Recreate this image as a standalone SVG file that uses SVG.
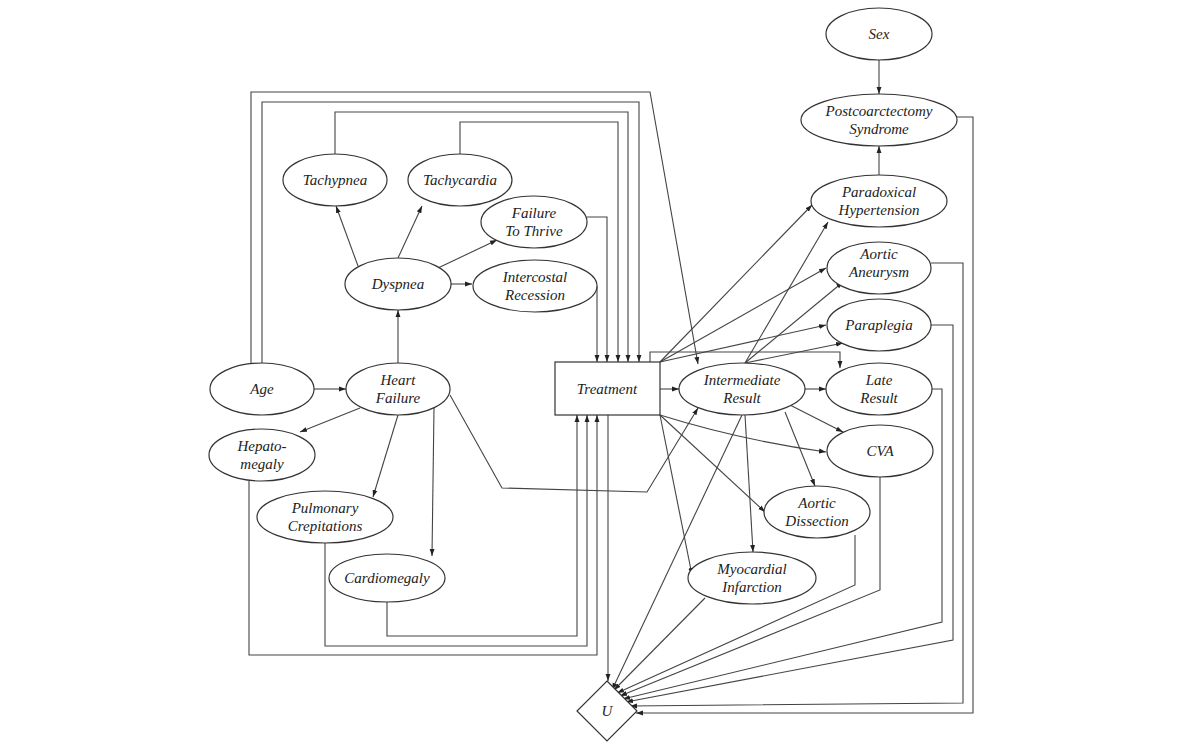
<svg xmlns="http://www.w3.org/2000/svg" width="1200" height="751" viewBox="0 0 1200 751">
<defs>
<marker id="a" viewBox="0 0 10 10" refX="10" refY="5" markerWidth="7" markerHeight="7" orient="auto" markerUnits="userSpaceOnUse"><path d="M0,1.5L10,5L0,8.5z" fill="#222"/></marker>
<style>
.n ellipse,.n rect,.n polygon{fill:#fff;stroke:#333;stroke-width:1.2}
.n text{font-family:"Liberation Serif",serif;font-style:italic;font-size:15px;fill:#222;text-anchor:middle}
#edges path{fill:none;stroke:#444;stroke-width:1.1;marker-end:url(#a)}
</style>
</defs>
<rect width="1200" height="751" fill="#fff"/>
<g id="edges">
<path d="M879,60V94"/>
<path d="M879,175V146"/>
<path d="M398,363V310"/>
<path d="M358,266L336,206"/>
<path d="M398,258L422,206"/>
<path d="M438,268L497,240"/>
<path d="M451,284H472"/>
<path d="M314,389H346"/>
<path d="M360,408L300,432"/>
<path d="M398,415L373,497"/>
<path d="M434,408L432,556"/>
<path d="M597,286V362"/>
<path d="M587,217L607,217V362"/>
<path d="M460,154V122H618V362"/>
<path d="M335,154V112H628V362"/>
<path d="M262,363V102H639V362"/>
<path d="M251,363V92H650L698,364"/>
<path d="M387,602V636H577V415"/>
<path d="M325,543V646H587V415"/>
<path d="M249,481V655H597V415"/>
<path d="M608,415V681"/>
<path d="M450,395L502,488L647,492L698,408"/>
<path d="M660,389H679"/>
<path d="M660,362L812,205"/>
<path d="M660,362L826,268"/>
<path d="M660,362L826,325"/>
<path d="M650,362V352H840V368"/>
<path d="M745,363L828,222"/>
<path d="M745,363L843,282"/>
<path d="M745,363L843,343"/>
<path d="M805,389H826"/>
<path d="M790,405L843,432"/>
<path d="M785,412L815,486"/>
<path d="M745,415L753,552"/>
<path d="M742,415L612,690"/>
<path d="M660,415Q740,440 826,452"/>
<path d="M660,415L765,512"/>
<path d="M660,415L692,575"/>
<path d="M705,598L614,690"/>
<path d="M855,535V585L617,693"/>
<path d="M880,477V590L620,696"/>
<path d="M905,389H942V622L623,699"/>
<path d="M931,325H953V640L626,702"/>
<path d="M931,263H963V703L630,706"/>
<path d="M957,117H973V713L636,713"/>
</g>
<g id="sex" class="n"><ellipse cx="879" cy="34" rx="53" ry="26"/><text x="879" y="39">Sex</text></g>
<g id="postco" class="n"><ellipse cx="879" cy="120" rx="78" ry="26"/><text x="879" y="116">Postcoarctectomy</text><text x="879" y="134">Syndrome</text></g>
<g id="paradox" class="n"><ellipse cx="879" cy="201" rx="68" ry="26"/><text x="879" y="197">Paradoxical</text><text x="879" y="215">Hypertension</text></g>
<g id="aneurysm" class="n"><ellipse cx="879" cy="268" rx="52" ry="26"/><text x="879" y="259">Aortic</text><text x="879" y="277">Aneurysm</text></g>
<g id="paraplegia" class="n"><ellipse cx="879" cy="325" rx="52" ry="26"/><text x="879" y="330">Paraplegia</text></g>
<g id="late" class="n"><ellipse cx="879" cy="389" rx="53" ry="26"/><text x="879" y="385">Late</text><text x="879" y="403">Result</text></g>
<g id="cva" class="n"><ellipse cx="880" cy="451" rx="53" ry="26"/><text x="880" y="456">CVA</text></g>
<g id="dissection" class="n"><ellipse cx="817" cy="512" rx="53" ry="26"/><text x="817" y="508">Aortic</text><text x="817" y="526">Dissection</text></g>
<g id="mi" class="n"><ellipse cx="752" cy="578" rx="64" ry="26"/><text x="752" y="574">Myocardial</text><text x="752" y="592">Infarction</text></g>
<g id="inter" class="n"><ellipse cx="742" cy="389" rx="63" ry="26"/><text x="742" y="385">Intermediate</text><text x="742" y="403">Result</text></g>
<g id="treatment" class="n"><rect x="555" y="362" width="105" height="53"/><text x="607" y="394">Treatment</text></g>
<g id="u" class="n"><polygon points="607,681 637,711 607,741 577,711"/><text x="607" y="716">U</text></g>
<g id="tachypnea" class="n"><ellipse cx="335" cy="180" rx="52" ry="26"/><text x="335" y="185">Tachypnea</text></g>
<g id="tachycardia" class="n"><ellipse cx="460" cy="180" rx="52" ry="26"/><text x="460" y="185">Tachycardia</text></g>
<g id="ftt" class="n"><ellipse cx="534" cy="222" rx="53" ry="26"/><text x="534" y="218">Failure</text><text x="534" y="236">To Thrive</text></g>
<g id="dyspnea" class="n"><ellipse cx="398" cy="284" rx="53" ry="26"/><text x="398" y="289">Dyspnea</text></g>
<g id="intercostal" class="n"><ellipse cx="535" cy="286" rx="62" ry="26"/><text x="535" y="282">Intercostal</text><text x="535" y="300">Recession</text></g>
<g id="age" class="n"><ellipse cx="262" cy="389" rx="52" ry="26"/><text x="262" y="394">Age</text></g>
<g id="hf" class="n"><ellipse cx="398" cy="389" rx="52" ry="26"/><text x="398" y="385">Heart</text><text x="398" y="403">Failure</text></g>
<g id="hepato" class="n"><ellipse cx="262" cy="455" rx="53" ry="26"/><text x="262" y="451">Hepato-</text><text x="262" y="469">megaly</text></g>
<g id="pulm" class="n"><ellipse cx="325" cy="517" rx="68" ry="26"/><text x="325" y="513">Pulmonary</text><text x="325" y="531">Crepitations</text></g>
<g id="cardio" class="n"><ellipse cx="387" cy="578" rx="58" ry="24"/><text x="387" y="583">Cardiomegaly</text></g>
</svg>
